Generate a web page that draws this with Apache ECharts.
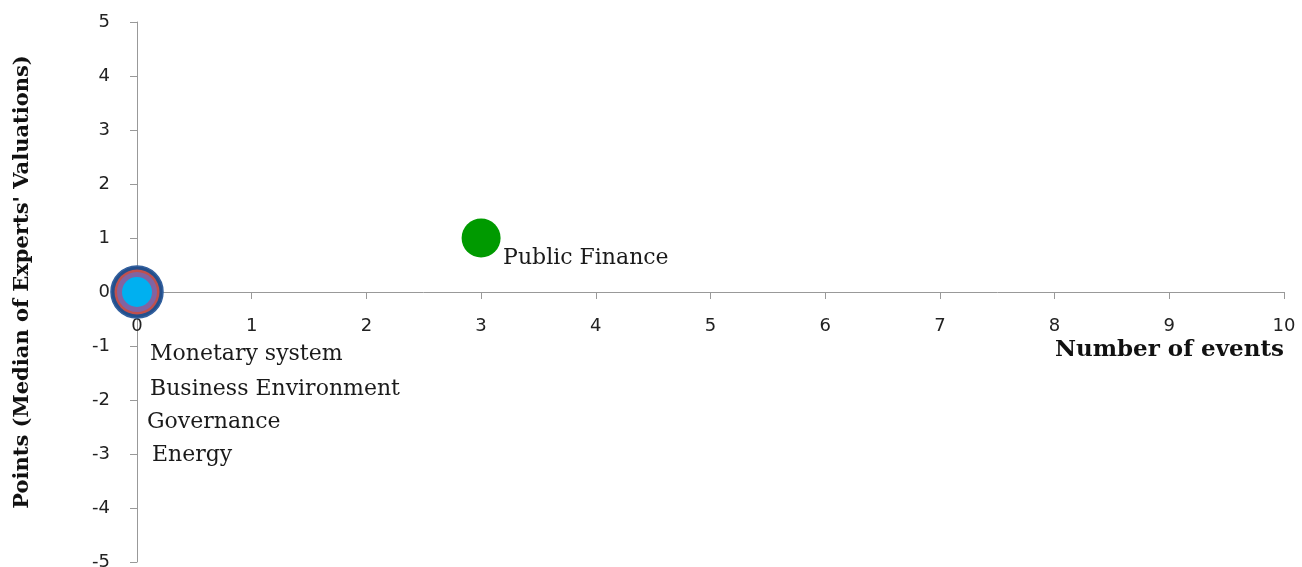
<!DOCTYPE html>
<html>
<head>
<meta charset="utf-8">
<script src="https://cdn.jsdelivr.net/npm/echarts@6/dist/echarts.min.js"></script>
<style>html,body{margin:0;padding:0;background:#fff;}#c{width:1302px;height:567px;}</style>
</head>
<body>
<div id="c"></div>
<script>
var categories = ['Monetary system', 'Business Environment', 'Governance', 'Energy', 'Public Finance'];
var events = [0, 0, 0, 0, 3];
var points = [0, 0, 0, 0, 1];
var bubbleSizes = [52, 45, 40, 30, 39];
var xTicks = [0, 1, 2, 3, 4, 5, 6, 7, 8, 9, 10];
var yTicks = [-5, -4, -3, -2, -1, 0, 1, 2, 3, 4, 5];

var colors = ['#234f8c', '#c0504d', '#8064a2', '#00b0f0', '#009a00'];
var labelOffsets = [[13, 62], [13, 97], [10, 130], [15, 163], [22, 20]];

var chart = echarts.init(document.getElementById('c'));
var series = categories.map(function (name, i) {
  return {
    name: name,
    type: 'scatter',
    data: [[events[i], points[i], bubbleSizes[i]]],
    symbolSize: function (v) { return v[2]; },
    itemStyle: {
      color: colors[i],
      opacity: 1,
      borderColor: i === 0 ? '#33609e' : colors[i],
      borderWidth: i === 0 ? 1.5 : 0
    },
    label: {
      show: true,
      position: 'inside',
      align: 'left',
      verticalAlign: 'middle',
      offset: labelOffsets[i],
      formatter: name,
      color: '#1a1a1a',
      fontFamily: 'DejaVu Serif',
      fontSize: 22
    },
    emphasis: { disabled: true },
    z: 2 + i
  };
});

chart.setOption({
  animation: false,
  backgroundColor: '#ffffff',
  grid: { left: 137, right: 18, top: 22, bottom: 5, containLabel: false, outerBoundsMode: 'none' },
  xAxis: {
    type: 'value',
    min: 0, max: 10, interval: 1,
    position: 'bottom',
    offset: -270,
    name: 'Number of events',
    nameLocation: 'end',
    nameGap: 0,
    nameTextStyle: {
      fontFamily: 'DejaVu Serif', fontWeight: 'bold', fontSize: 23, color: '#111',
      align: 'right', verticalAlign: 'top', padding: [47, 0, 0, 0]
    },
    axisLine: { onZero: false, lineStyle: { color: '#999', width: 1 } },
    axisTick: { show: true, inside: false, length: 7, lineStyle: { color: '#999' } },
    axisLabel: {
      fontFamily: 'DejaVu Sans', fontSize: 18, color: '#222', margin: 25,
      formatter: function (v) { return xTicks.indexOf(v) >= 0 ? String(v) : ''; }
    },
    splitLine: { show: false }
  },
  yAxis: {
    type: 'value',
    min: -5, max: 5, interval: 1,
    name: "Points (Median of Experts' Valuations)",
    nameLocation: 'middle',
    nameGap: 104,
    nameRotate: 90,
    nameTextStyle: {
      fontFamily: 'DejaVu Serif', fontWeight: 'bold', fontSize: 21, color: '#111',
      padding: [0, 0, 0, 20]
    },
    axisLine: { onZero: false, lineStyle: { color: '#999', width: 1 } },
    axisTick: { show: true, inside: false, length: 7, lineStyle: { color: '#999' } },
    axisLabel: {
      fontFamily: 'DejaVu Sans', fontSize: 18, color: '#222', margin: 27,
      formatter: function (v) { return yTicks.indexOf(v) >= 0 ? String(v) : ''; }
    },
    splitLine: { show: false }
  },
  series: series
});
</script>
</body>
</html>
